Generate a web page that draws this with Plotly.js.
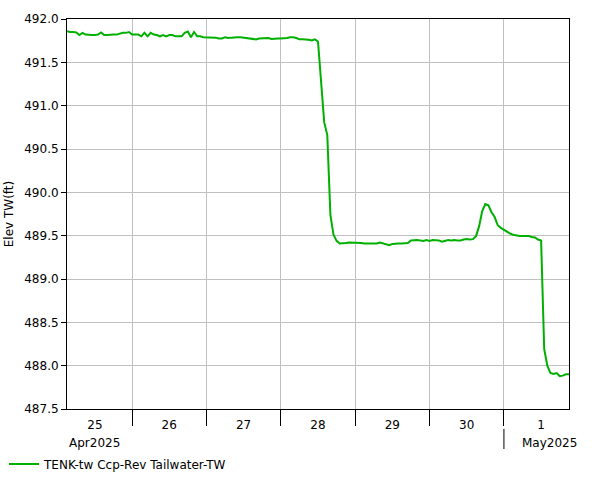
<!DOCTYPE html>
<html>
<head>
<meta charset="utf-8">
<script src="https://cdn.plot.ly/plotly-3.0.1.min.js"></script>
<style>html,body{margin:0;padding:0;background:#fff;}#chart{width:601px;height:480px;}</style>
</head>
<body>
<div id="chart"></div>
<script>
// Hourly readings starting 2025-04-25 03:00
const seriesName = "TENK-tw Ccp-Rev Tailwater-TW";
const startTime = "2025-04-25T03:00:00";
const stepHours = 1;
const elevation = [
  // Apr 25 03:00 - 23:00
  491.86, 491.85, 491.85, 491.845, 491.815, 491.84, 491.82, 491.815, 491.815, 491.815,
  491.82, 491.845, 491.815, 491.815, 491.82, 491.82, 491.82, 491.83, 491.84, 491.84, 491.85,
  // Apr 26
  491.82, 491.82, 491.82, 491.80, 491.84, 491.80, 491.84, 491.82, 491.815, 491.80,
  491.815, 491.80, 491.815, 491.815, 491.80, 491.80, 491.80, 491.84, 491.855, 491.79,
  491.85, 491.80, 491.80, 491.79,
  // Apr 27
  491.79, 491.79, 491.79, 491.785, 491.775, 491.775, 491.79, 491.78, 491.785, 491.79,
  491.79, 491.79, 491.785, 491.775, 491.775, 491.77, 491.765, 491.775, 491.775, 491.775,
  491.78, 491.77, 491.775, 491.775,
  // Apr 28
  491.775, 491.775, 491.78, 491.79, 491.79, 491.78, 491.765, 491.765, 491.765, 491.76,
  491.752, 491.765, 491.74, 491.24, 490.81, 490.66, 489.74, 489.51, 489.44, 489.41,
  489.41, 489.415, 489.42, 489.42,
  // Apr 29
  489.42, 489.42, 489.415, 489.41, 489.41, 489.405, 489.41, 489.41, 489.42, 489.41,
  489.405, 489.39, 489.405, 489.41, 489.41, 489.41, 489.41, 489.415, 489.445, 489.45,
  489.45, 489.445, 489.44, 489.45,
  // Apr 30
  489.44, 489.45, 489.445, 489.445, 489.43, 489.44, 489.45, 489.445, 489.45, 489.445,
  489.445, 489.455, 489.46, 489.455, 489.46, 489.495, 489.61, 489.785, 489.865, 489.85,
  489.77, 489.715, 489.62, 489.59,
  // May 1 00:00 - 21:00
  489.565, 489.54, 489.525, 489.51, 489.50, 489.495, 489.495, 489.495, 489.495, 489.485,
  489.48, 489.455, 489.445, 488.19, 488.00, 487.915, 487.905, 487.915, 487.88, 487.885,
  487.90, 487.90
];
const dayTickFormat = "%-d";
const monthLabels = ["Apr2025", "May2025"];
const xRange = ["2025-04-25 03:00", "2025-05-01 21:00"];
const yRange = [487.5, 492.0];

const t0 = new Date(startTime + "Z").getTime();
const times = elevation.map((_, i) => new Date(t0 + i * stepHours * 3600000).toISOString().replace("T", " ").slice(0, 19));

const font = {family: "DejaVu Sans, Verdana, sans-serif", size: 12, color: "#000"};

const traces = [{
  x: times, y: elevation, type: "scatter", mode: "lines",
  name: seriesName, line: {color: "#00b000", width: 2},
  xaxis: "x", yaxis: "y"
}, {
  x: times, y: elevation, type: "scatter", mode: "lines",
  line: {color: "rgba(0,0,0,0)", width: 0}, showlegend: false, hoverinfo: "skip",
  xaxis: "x2", yaxis: "y"
}];

const layout = {
  width: 601, height: 480,
  margin: {l: 67, r: 32, t: 19, b: 71},
  paper_bgcolor: "#fff", plot_bgcolor: "#fff",
  font: font,
  showlegend: true,
  legend: {
    xref: "container", yref: "container", x: 0.0067, y: 0.003, xanchor: "left", yanchor: "bottom",
    orientation: "h", font: font, bgcolor: "rgba(0,0,0,0)"
  },
  xaxis: {
    type: "date", range: xRange, dtick: 86400000, tick0: "2025-04-25",
    ticklabelmode: "period", tickformat: dayTickFormat,
    ticks: "outside", ticklen: 5, tickcolor: "rgba(0,0,0,0)",
    showgrid: true, gridcolor: "#c0c0c0", gridwidth: 1,
    showline: true, linecolor: "#000", linewidth: 1, mirror: true,
    zeroline: false, tickfont: font
  },
  xaxis2: {
    type: "date", range: xRange, dtick: 86400000, tick0: "2025-04-25",
    overlaying: "x", anchor: "y", side: "bottom", matches: "x",
    ticks: "outside", ticklen: 16, tickcolor: "#000", tickwidth: 1,
    showticklabels: false, showgrid: false, showline: false, zeroline: false
  },
  yaxis: {
    range: yRange, dtick: 0.5, tick0: 487.5, tickformat: ".1f",
    ticks: "outside", ticklen: 5, tickcolor: "#000",
    showgrid: true, gridcolor: "#c0c0c0", gridwidth: 1,
    showline: true, linecolor: "#000", linewidth: 1, mirror: true,
    zeroline: false, tickfont: font,
    title: {text: "Elev TW(ft)", font: font, standoff: 8}
  },
  annotations: [
    {text: monthLabels[0], xref: "paper", yref: "paper", x: 0, y: -0.065, xanchor: "left", yanchor: "top", showarrow: false, font: font},
    {text: monthLabels[1], xref: "x", yref: "paper", x: "2025-05-01", xshift: 16, y: -0.065, xanchor: "left", yanchor: "top", showarrow: false, font: font}
  ],
  shapes: [
    {type: "line", xref: "x", yref: "paper", x0: "2025-05-01", x1: "2025-05-01", y0: -0.051, y1: -0.1026, line: {color: "#000", width: 1}}
  ]
};

Plotly.newPlot("chart", traces, layout, {displayModeBar: false, staticPlot: true});
</script>
</body>
</html>
